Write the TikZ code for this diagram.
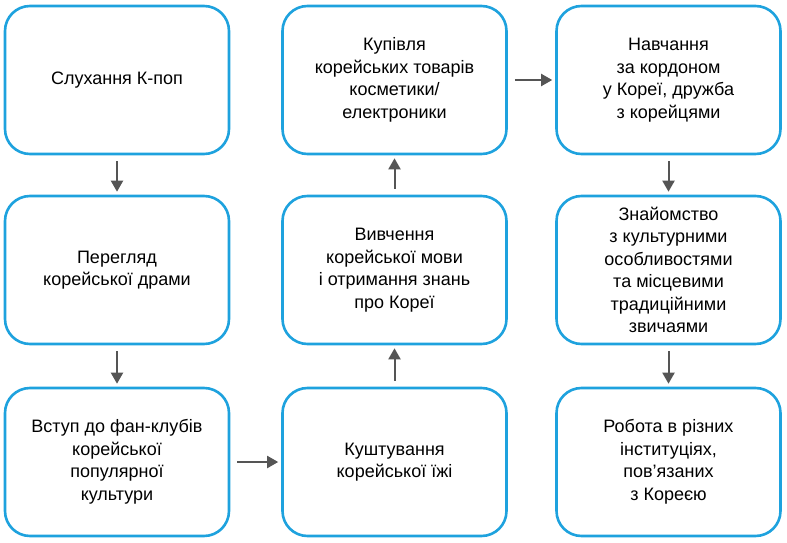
\documentclass[tikz,border=0pt]{standalone}
\usepackage{fontspec}
\setmainfont{Liberation Sans}
\usetikzlibrary{arrows.meta}
\definecolor{boxblue}{RGB}{30,162,222}
\definecolor{arrgray}{RGB}{85,85,85}
\begin{document}
\begin{tikzpicture}[x=1pt,y=-1pt,
  box/.style={draw=boxblue,line width=2.6pt,rounded corners=25pt,minimum width=224pt,minimum height=148pt,align=center,font=\fontsize{18}{22.5}\selectfont,text=black,fill=white},
  arr/.style={draw=arrgray,line width=2pt,-{Triangle[length=11pt,width=12pt]}}]
\useasboundingbox (0,0) rectangle (787,543);
\node[box] (a) at (117,80) {Слухання К-поп};
\node[box] (b) at (117,270) {Перегляд\\корейської драми};
\node[box] (c) at (117,462) {Вступ до фан-клубів\\корейської\\популярної\\культури};
\node[box] (d) at (394.5,462) {Куштування\\корейської їжі};
\node[box] (e) at (394.5,270) {Вивчення\\корейської мови\\і отримання знань\\про Кореї};
\node[box] (f) at (394.5,80) {Купівля\\корейських товарів\\косметики/\\електроники};
\node[box] (g) at (668.5,80) {Навчання\\за кордоном\\у Кореї, дружба\\з корейцями};
\node[box] (h) at (668.5,270) {Знайомство\\з культурними\\особливостями\\та місцевими\\традиційними\\звичаями};
\node[box] (i) at (668.5,462) {Робота в різних\\інституціях,\\пов’язаних\\з Кореєю};
\draw[arr,shorten <=6pt,shorten >=3pt] (a) -- (b);
\draw[arr,shorten <=6pt,shorten >=3pt] (b) -- (c);
\draw[arr,shorten <=7pt,shorten >=3pt] (c) -- (d);
\draw[arr,shorten <=6pt,shorten >=3pt] (d) -- (e);
\draw[arr,shorten <=6pt,shorten >=3pt] (e) -- (f);
\draw[arr,shorten <=7pt,shorten >=3pt] (f) -- (g);
\draw[arr,shorten <=6pt,shorten >=3pt] (g) -- (h);
\draw[arr,shorten <=6pt,shorten >=3pt] (h) -- (i);
\end{tikzpicture}
\end{document}
